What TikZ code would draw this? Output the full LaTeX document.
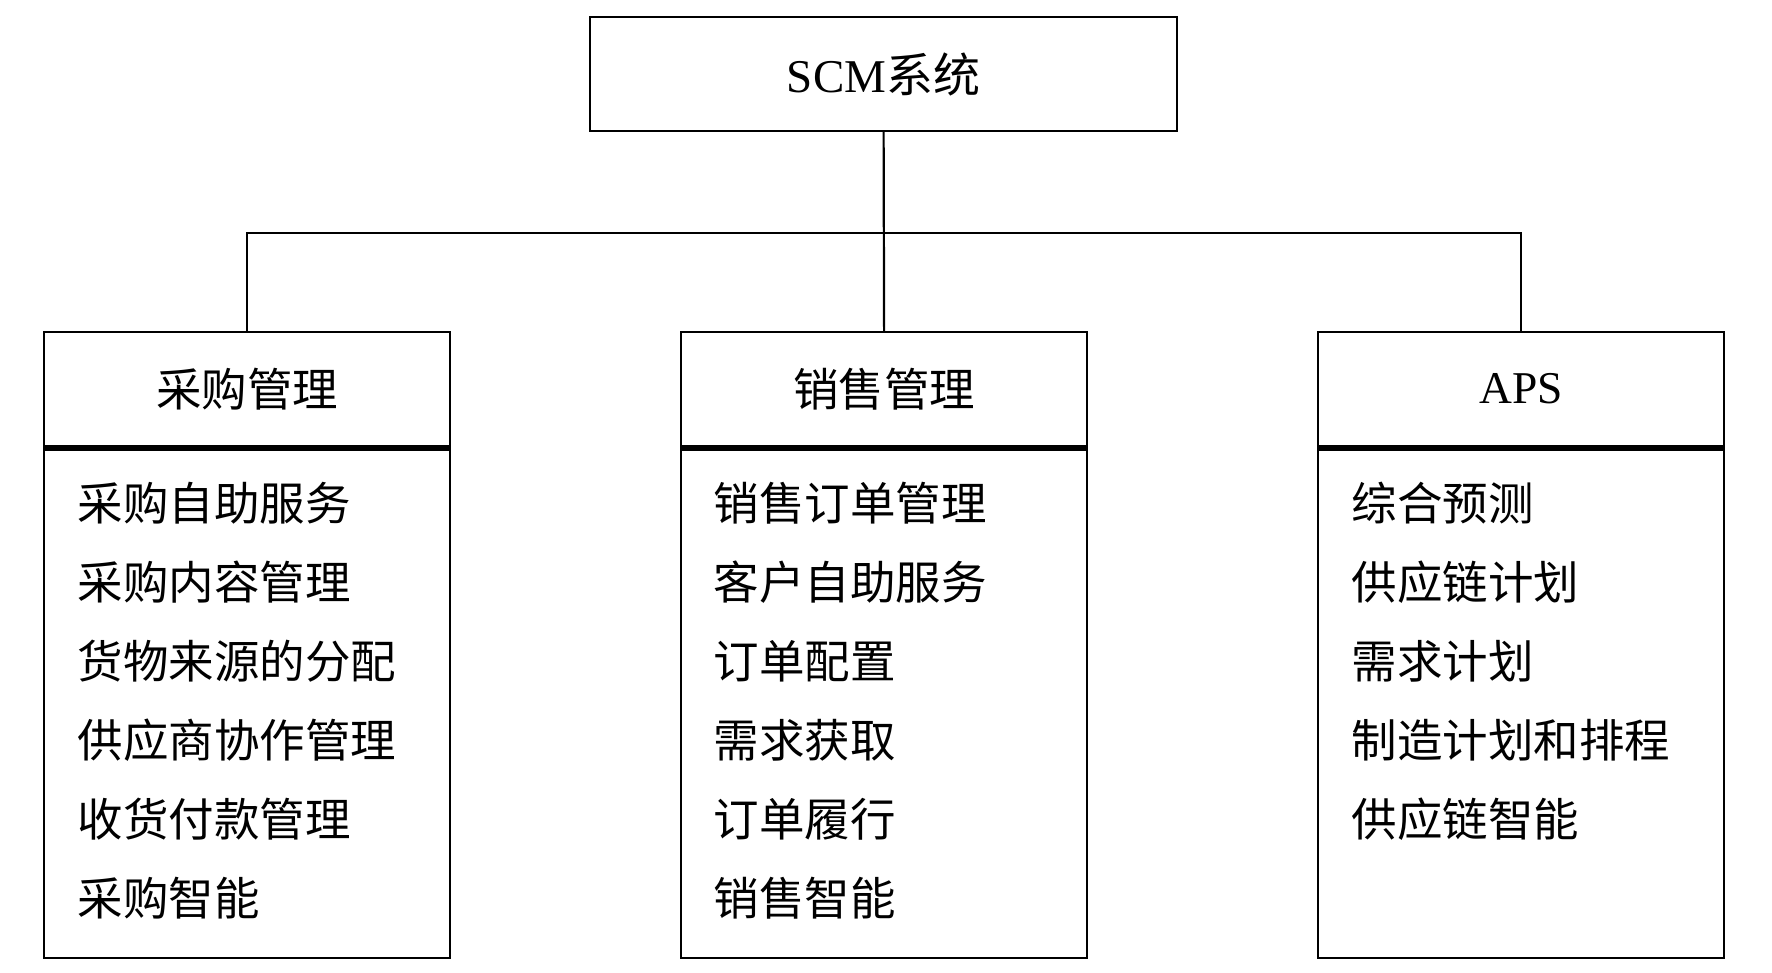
\documentclass[tikz,border=0pt]{standalone}
\usepackage{fontspec}
\setmainfont{Liberation Serif}
\newfontfamily\cjk{Noto Sans CJK SC}
\begin{document}
\begin{tikzpicture}[x=1pt,y=-1pt,line width=2.2pt,
  box/.style={draw,line width=2.2pt,inner sep=0pt,anchor=north west,align=center},
  head/.style={box,minimum width=406pt,minimum height=115pt,font=\fontsize{45.5}{50}\selectfont\cjk},
  body/.style={box,minimum width=406pt,minimum height=511pt},
  item/.style={anchor=west,inner sep=0pt,font=\fontsize{45.5}{50}\selectfont\cjk},
  sep/.style={line width=5.5pt}]
\useasboundingbox (0,0) rectangle (1772,972);
% top
\node[box,minimum width=587pt,minimum height=114pt] (top) at (589,16)
  {\fontsize{47}{50}\selectfont{\rmfamily SCM}{\cjk 系统}};
% headers
\node[head] (h1) at (43,331) {\raisebox{5pt}{采购管理}};
\node[head] (h2) at (680,331) {\raisebox{5pt}{销售管理}};
\node[head] (h3) at (1317,331) {\raisebox{3pt}{\rmfamily APS}};
% bodies
\node[body] (b1) at (43,446) {};
\node[body] (b2) at (680,446) {};
\node[body] (b3) at (1317,446) {};
\draw[sep] (h1.south west) -- (h1.south east);
\draw[sep] (h2.south west) -- (h2.south east);
\draw[sep] (h3.south west) -- (h3.south east);
% connectors
\coordinate (j) at (882.5,233);
\draw (top.south) -- (h2.north);
\draw (h1.north) -- (h1.north |- j) -- (h3.north |- j) -- (h3.north);
% left items
\node[item] (l1) at (76.5,503) {采购自助服务};
\node[item] (l2) at (76.5,582) {采购内容管理};
\node[item] (l3) at (76.5,661) {货物来源的分配};
\node[item] (l4) at (76.5,740) {供应商协作管理};
\node[item] (l5) at (76.5,819) {收货付款管理};
\node[item] (l6) at (76.5,898) {采购智能};
% middle items
\node[item] (m1) at (712.5,503) {销售订单管理};
\node[item] (m2) at (712.5,582) {客户自助服务};
\node[item] (m3) at (712.5,661) {订单配置};
\node[item] (m4) at (712.5,740) {需求获取};
\node[item] (m5) at (712.5,819) {订单履行};
\node[item] (m6) at (712.5,898) {销售智能};
% right items
\node[item] (r1) at (1350.5,503) {综合预测};
\node[item] (r2) at (1350.5,582) {供应链计划};
\node[item] (r3) at (1350.5,661) {需求计划};
\node[item] (r4) at (1350.5,740) {制造计划和排程};
\node[item] (r5) at (1350.5,819) {供应链智能};
\end{tikzpicture}
\end{document}
